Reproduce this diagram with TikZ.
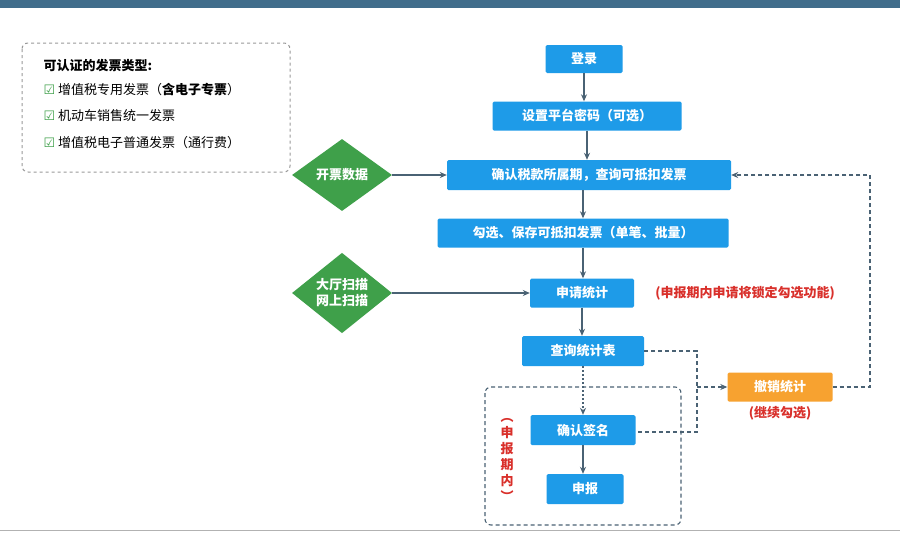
\documentclass[tikz,border=0pt]{standalone}
\usepackage{fontspec}
\setmainfont{Noto Sans CJK SC}
\newfontfamily\symf{DejaVu Sans}
\usetikzlibrary{shapes.geometric,arrows.meta}
\definecolor{bb}{HTML}{1E9BE8}
\definecolor{gg}{HTML}{3FA04A}
\definecolor{oo}{HTML}{F7A230}
\definecolor{ll}{HTML}{4A6274}
\definecolor{rr}{HTML}{D9302B}
\newcommand{\ck}{\textcolor{gg}{\symf ☑}}
\begin{document}
\begin{tikzpicture}[x=1pt,y=-1pt,
 box/.style={fill=bb,text=white,font=\bfseries\fontsize{13}{15}\selectfont,inner sep=0,rounded corners=1.5pt},
 dia/.style={diamond,fill=gg,text=white,font=\bfseries\fontsize{13}{15}\selectfont,inner sep=0,minimum width=100,minimum height=72},
 arr/.style={draw=ll,line width=1.1pt,-{Stealth[length=7pt,width=6pt]}},
 dsh/.style={draw=ll,line width=1.1pt,dash pattern=on 4pt off 3pt}]
\useasboundingbox (0,0) rectangle (900,539);
\fill[white] (0,0) rectangle (900,539);
\fill[ll!80!bb] (0,0) rectangle (900,8);
\draw[gray!60,line width=0.8pt] (0,530) -- (900,530);
% left info box
\draw[gray!80,line width=1pt,dashed,rounded corners=6pt] (22,43) rectangle (290,172);
\node[anchor=west,font=\bfseries\fontsize{13}{15}\selectfont] (t0) at (40,66) {可认证的发票类型:};
\node[anchor=west,font=\fontsize{13}{15}\selectfont] (t1) at (40,90) {\ck\ 增值税专用发票（\textbf{含电子专票}）};
\node[anchor=west,font=\fontsize{13}{15}\selectfont] (t2) at (40,116) {\ck\ 机动车销售统一发票};
\node[anchor=west,font=\fontsize{13}{15}\selectfont] (t3) at (40,143) {\ck\ 增值税电子普通发票（通行费）};
% boxes
\node[box,minimum width=77,minimum height=28] (a) at (584,59) {登录};
\node[box,minimum width=189,minimum height=29] (b) at (587,116) {设置平台密码（可选）};
\node[box,minimum width=284,minimum height=30] (c) at (589,175) {确认税款所属期，查询可抵扣发票};
\node[box,minimum width=291,minimum height=29] (d) at (583,233) {勾选、保存可抵扣发票（单笔、批量）};
\node[box,minimum width=104,minimum height=29] (e) at (582,293) {申请统计};
\node[box,minimum width=122,minimum height=30] (f) at (583,351) {查询统计表};
\node[box,minimum width=105,minimum height=30] (g) at (583,430) {确认签名};
\node[box,minimum width=77,minimum height=30] (h) at (585,489) {申报};
\node[box,fill=oo,minimum width=105,minimum height=29] (u) at (780,387) {撤销统计};
\node[text=rr,font=\bfseries\fontsize{13}{15}\selectfont] (ut) at (780,413) {(继续勾选)};
\node[text=rr,font=\bfseries\fontsize{13}{15}\selectfont] (et) at (745,293) {(申报期内申请将锁定勾选功能)};
\node[dia] (p) at (342,175) {开票数据};
\node[dia,align=center,font=\bfseries\fontsize{13}{16}\selectfont,minimum height=76] (q) at (342,293) {大厅扫描\\网上扫描};
% dashed group
\draw[dsh,rounded corners=6pt] (485,387) rectangle (681,525);
\node[text=rr,font=\bfseries\fontsize{13}{16}\selectfont,align=center] (v) at (507,460) {︵\\申\\报\\期\\内\\︶};
% arrows
\draw[arr] (a) -- (a |- b.north);
\draw[arr] (b) -- (b |- c.north);
\draw[arr] (d |- c.south) -- (d);
\draw[arr] (d) -- (d |- e.north);
\draw[arr] (e) -- (e |- f.north);
\draw[arr] (g) -- (g |- h.north);
\draw[arr] (p) -- (c);
\draw[arr] (q) -- (e);
\draw[arr,dash pattern=on 2pt off 2pt] (f) -- (g);
\coordinate (j1) at (697,351);
\coordinate (j2) at (697,432);
\coordinate (j3) at (697,387);
\draw[dsh] (f.east) -- (j1) -- (j2) -- (g.east |- j2);
\draw[dsh,-{Stealth[length=7pt,width=6pt]}] (j3) -- (u.west);
\coordinate (k1) at (870,387);
\coordinate (k2) at (870,175);
\draw[dsh,-{Stealth[length=7pt,width=6pt]}] (u.east) -- (k1) -- (k2) -- (c.east);
\end{tikzpicture}
\end{document}
